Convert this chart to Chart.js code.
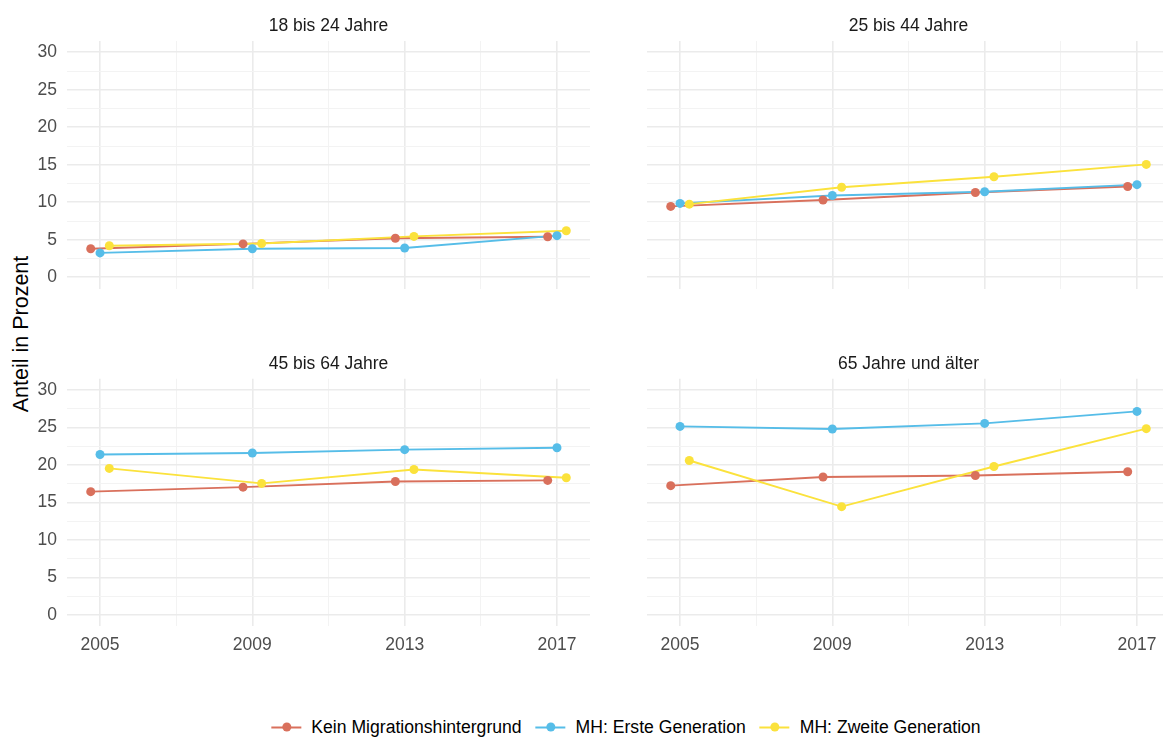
<!DOCTYPE html>
<html lang="de">
<head>
<meta charset="utf-8">
<title>Anteil in Prozent nach Altersgruppe und Migrationshintergrund</title>
<script src="https://cdn.jsdelivr.net/npm/chart.js@4.4.1/dist/chart.umd.min.js"></script>
<style>
    html, body { margin: 0; padding: 0; background: #fff; overflow: hidden; }
    #page { position: relative; width: 1163px; height: 737px; overflow: hidden; font-family: 'Liberation Sans', Arial, sans-serif; }
    canvas.panel { position: absolute; left: 0; top: 0; }
    .strip { position: absolute; transform: translate(-50%, -50%); font-size: 17.5px; color: #1a1a1a; white-space: nowrap; }
    #ytitle { position: absolute; left: 21px; top: 334px; transform: translate(-50%, -50%) rotate(-90deg); font-size: 21.5px; color: #000; white-space: nowrap; }
    #legend { position: absolute; left: 626px; top: 727px; transform: translate(-50%, -50%); display: flex; align-items: center; font-size: 17.6px; color: #000; white-space: nowrap; }
    .item { display: flex; align-items: center; margin: 0 7px; }
    .key { position: relative; width: 30px; height: 12px; margin-right: 10px; }
    .key .ln { position: absolute; left: 0; right: 0; top: 5px; height: 2px; }
    .key .dt { position: absolute; left: 10.5px; top: 1.5px; width: 9px; height: 9px; border-radius: 50%; }
</style>
</head>
<body>
<div id="page">
    <div id="ytitle">Anteil in Prozent</div>
    <div id="legend"></div>
</div>

<script>
// Daten
const years = [2005, 2009, 2013, 2017];
const xGridYears = [2005, 2007, 2009, 2011, 2013, 2015, 2017];
const yTickValues = [0, 5, 10, 15, 20, 25, 30];
const yGridValues = [0, 2.5, 5, 7.5, 10, 12.5, 15, 17.5, 20, 22.5, 25, 27.5, 30];

const panelTitles = ['18 bis 24 Jahre', '25 bis 44 Jahre', '45 bis 64 Jahre', '65 Jahre und älter'];
const seriesNames = ['Kein Migrationshintergrund', 'MH: Erste Generation', 'MH: Zweite Generation'];

// Werte je Altersgruppe (Reihenfolge wie panelTitles)
const keinMH = [
    [3.8, 4.45, 5.2, 5.4],
    [9.45, 10.3, 11.3, 12.1],
    [16.45, 17.05, 17.8, 17.95],
    [17.25, 18.4, 18.6, 19.1]
];
const ersteGeneration = [
    [3.25, 3.8, 3.9, 5.55],
    [9.85, 10.9, 11.4, 12.35],
    [21.4, 21.6, 22.05, 22.3],
    [25.15, 24.8, 25.55, 27.15]
];
const zweiteGeneration = [
    [4.2, 4.5, 5.45, 6.2],
    [9.75, 12.0, 13.4, 15.05],
    [19.55, 17.55, 19.4, 18.3],
    [20.6, 14.45, 19.8, 24.85]
];
const seriesValues = [keinMH, ersteGeneration, zweiteGeneration];

// Darstellung
const COLORS = ['#d9705c', '#56bde8', '#fbe23c'];
const DODGE = [-0.244, 0, 0.244];
const CANVAS_W = 1200, CANVAS_H = 737;
const PLOT_LEFT = [67, 647], PLOT_W = 523;
const PLOT_TOP = [41, 378.75], PLOT_H = 247.5;
const TICK_FONT = { family: "'Liberation Sans', Arial, sans-serif", size: 17.5 };

/**
 * Erstellt ein Facetten-Panel
 */
function buildPanel(p) {
    const col = p % 2, row = Math.floor(p / 2);
    const left = PLOT_LEFT[col], top = PLOT_TOP[row];
    const yWidth = col === 0 ? 67 : 0;
    const xHeight = row === 1 ? 30 : 0;

    const canvas = document.createElement('canvas');
    canvas.className = 'panel';
    canvas.width = CANVAS_W;
    canvas.height = CANVAS_H;
    document.getElementById('page').appendChild(canvas);

    // Titel der Facette
    const strip = document.createElement('div');
    strip.className = 'strip';
    strip.textContent = panelTitles[p];
    strip.style.left = (left + PLOT_W / 2) + 'px';
    strip.style.top = (row === 0 ? 25 : 363) + 'px';
    document.getElementById('page').appendChild(strip);

    const datasets = [];
    // Linien zuerst (unten), dann Punkte
    seriesNames.forEach((name, s) => {
        const pts = years.map((yr, k) => ({ x: yr + DODGE[s], y: seriesValues[s][p][k] }));
        datasets.push({
            label: name,
            data: pts,
            borderColor: COLORS[s],
            borderWidth: 1.9,
            pointRadius: 0,
            tension: 0,
            order: 10 - s
        });
        datasets.push({
            label: name,
            data: pts,
            showLine: false,
            pointRadius: 4.5,
            pointBackgroundColor: COLORS[s],
            pointBorderWidth: 0,
            order: 5 - s
        });
    });

    const isMajorX = v => years.includes(v);
    const isMajorY = v => yTickValues.includes(v);

    new Chart(canvas, {
        type: 'line',
        data: { datasets: datasets },
        options: {
            responsive: false,
            animation: false,
            events: [],
            layout: {
                padding: {
                    left: left - yWidth,
                    right: CANVAS_W - left - PLOT_W,
                    top: top,
                    bottom: CANVAS_H - top - PLOT_H - xHeight
                }
            },
            plugins: { legend: { display: false }, tooltip: { enabled: false } },
            scales: {
                x: {
                    type: 'linear',
                    min: 2005 - 0.867,
                    max: 2017 + 0.867,
                    afterBuildTicks: s => { s.ticks = xGridYears.map(v => ({ value: v })); },
                    afterFit: s => { s.height = xHeight; },
                    border: { display: false },
                    grid: {
                        drawTicks: false,
                        color: c => isMajorX(c.tick.value) ? '#ebebeb' : '#f3f3f3',
                        lineWidth: c => isMajorX(c.tick.value) ? 1.6 : 1
                    },
                    ticks: {
                        display: row === 1,
                        padding: 8,
                        maxRotation: 0,
                        autoSkip: false,
                        color: '#4d4d4d',
                        font: TICK_FONT,
                        callback: v => isMajorX(v) ? String(v) : ''
                    }
                },
                y: {
                    min: -1.5,
                    max: 31.5,
                    afterBuildTicks: s => { s.ticks = yGridValues.map(v => ({ value: v })); },
                    afterFit: s => { s.width = yWidth; },
                    border: { display: false },
                    grid: {
                        drawTicks: false,
                        color: c => isMajorY(c.tick.value) ? '#ebebeb' : '#f3f3f3',
                        lineWidth: c => isMajorY(c.tick.value) ? 1.6 : 1
                    },
                    ticks: {
                        display: col === 0,
                        padding: 10,
                        autoSkip: false,
                        color: '#4d4d4d',
                        font: TICK_FONT,
                        callback: v => isMajorY(v) ? String(v) : ''
                    }
                }
            }
        }
    });
}

/**
 * Legende unten
 */
function buildLegend() {
    const legend = document.getElementById('legend');
    seriesNames.forEach((name, s) => {
        const item = document.createElement('div');
        item.className = 'item';
        item.innerHTML = '<span class="key"><span class="ln"></span><span class="dt"></span></span><span></span>';
        item.querySelector('.ln').style.background = COLORS[s];
        item.querySelector('.dt').style.background = COLORS[s];
        item.lastChild.textContent = name;
        legend.appendChild(item);
    });
}

panelTitles.forEach((t, p) => buildPanel(p));
buildLegend();
</script>
</body>
</html>
